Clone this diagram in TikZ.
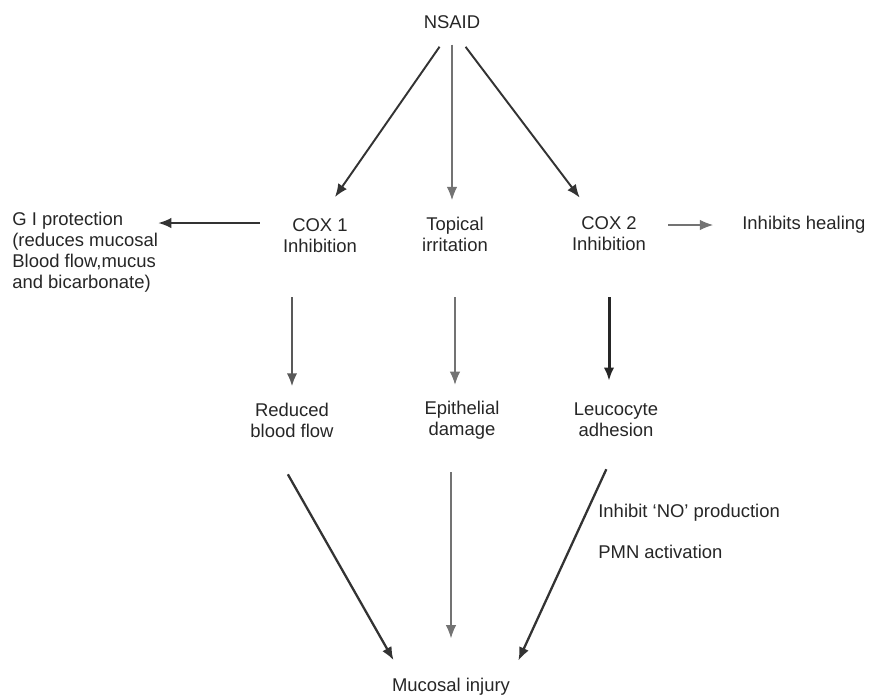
\documentclass[tikz,border=0pt]{standalone}
\usepackage{fontspec}
\setmainfont{Liberation Sans}
\usetikzlibrary{arrows.meta}

\begin{document}
\begin{tikzpicture}[x=0.02cm,y=-0.02cm,
   every node/.style={inner sep=0pt,align=center,text=black!85,
      font=\fontsize{10.5}{12}\selectfont},
   arr/.style={-{Latex[length=7.5pt,width=6pt]},line width=1.1pt,draw=black!80},
   thinarr/.style={arr,line width=0.6pt,draw=black!55},
   heavyarr/.style={arr,line width=1.7pt,draw=black!85}]
\useasboundingbox (0,0) rectangle (872,698);
\node (nsaid) at (452,22) {NSAID};
\node (cox1) at (320,236) {COX 1\\Inhibition};
\node (topical) at (455,234) {Topical\\irritation};
\node (cox2) at (609,234) {COX 2\\Inhibition};
\node[anchor=west] (heal) at (742,225) {Inhibits healing};
\node[anchor=west,align=left] (gi) at (12,252)
   {G I protection\\(reduces mucosal\\Blood flow,mucus\\and bicarbonate)};
\node (reduced) at (292,420) {Reduced\\blood flow};
\node (epith) at (462,420) {Epithelial\\damage};
\node (leuco) at (616,420) {Leucocyte\\adhesion};
\node[anchor=west] (noprod) at (598,513) {Inhibit `NO' production};
\node[anchor=west] (pmn) at (598,552) {PMN activation};
\node (mucosal) at (451,687) {Mucosal injury};
% NSAID to the three effects
\draw[arr,shorten <=12.4pt,shorten >=14.9pt] (nsaid.south) -- (cox1.north);
\draw[thinarr,shorten <=9pt,shorten >=9.3pt] (nsaid.south) -- (nsaid.south |- topical.north);
\draw[arr,shorten <=12.8pt,shorten >=13.5pt] (nsaid.south) -- ([shift={(-15,0)}]cox2.north);
% side effects
\draw[arr,line width=0.9pt,shorten <=13pt] ([shift={(0,-13)}]cox1.west) -- ([shift={(0,-13)}]cox1.west -| gi.east);
\draw[thinarr,shorten <=12.5pt,shorten >=16.5pt] ([shift={(0,-9)}]cox2.east) -- (heal.west);
% second level
\draw[arr,line width=1.5pt,draw=black!65,shorten <=25pt,shorten >=9pt] (reduced.north |- cox1.south) -- (reduced.north);
\draw[thinarr,shorten <=26pt,shorten >=9pt] (topical.south) -- (topical.south |- epith.north);
\draw[heavyarr,shorten <=26pt,shorten >=12.5pt] (cox2.south) -- (cox2.south |- leuco.north);
% to mucosal injury
\draw[arr,line width=1.3pt,shorten <=24pt,shorten >=11.7pt] ([shift={(-25,0)}]reduced.south) -- ([shift={(12,0)}]mucosal.north west);
\draw[thinarr,shorten <=18.5pt,shorten >=22.7pt] (epith.south -| mucosal.north) -- (mucosal.north);
\draw[arr,line width=1.3pt,shorten <=20pt,shorten >=11pt] ([shift={(5,0)}]leuco.south) -- (mucosal.north east);
\end{tikzpicture}
\end{document}
